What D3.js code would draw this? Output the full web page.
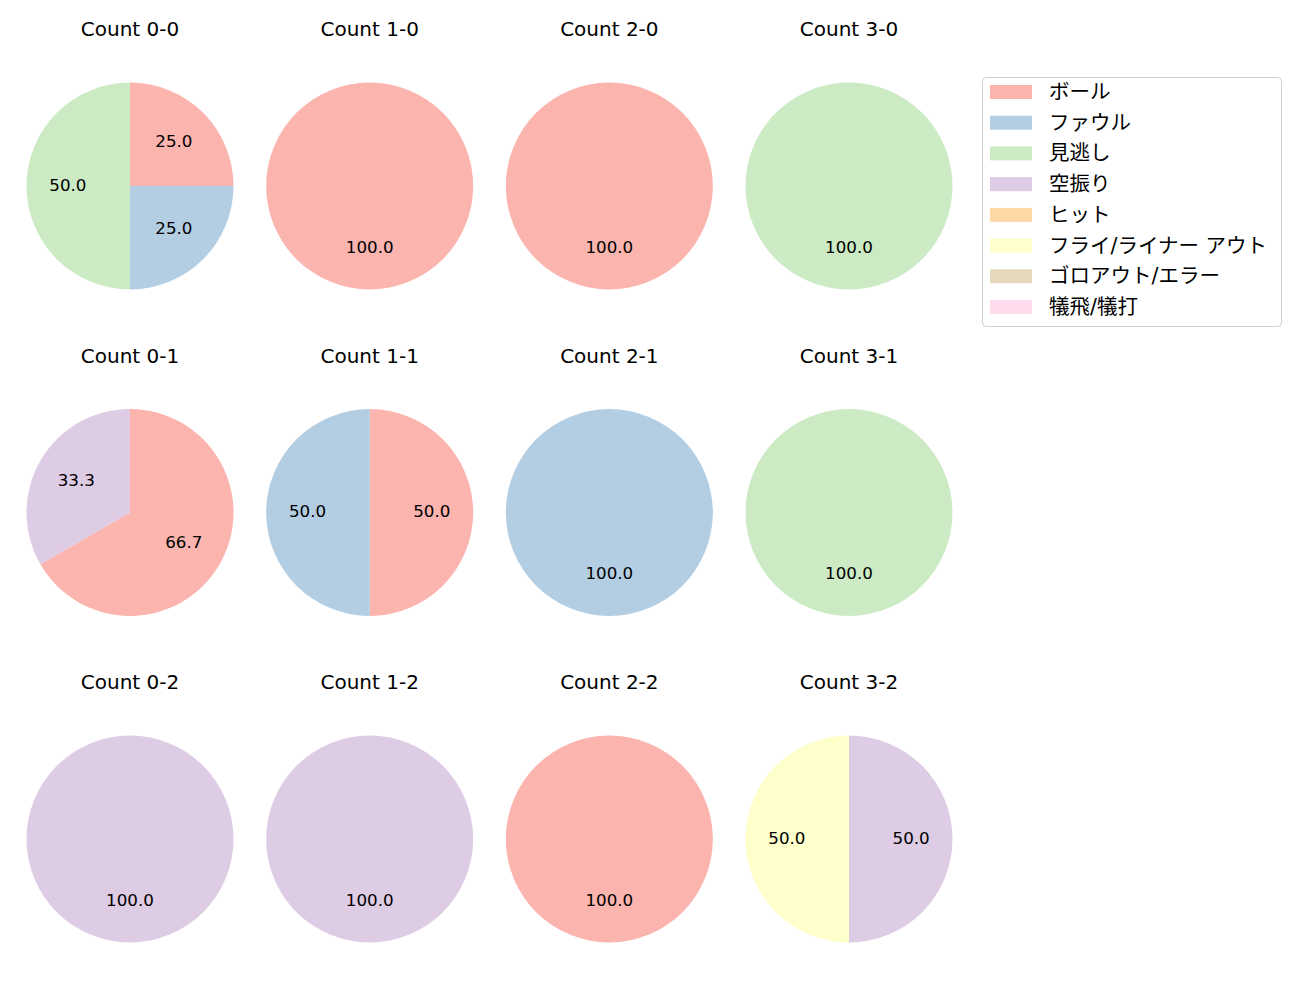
<!DOCTYPE html>
<html>
<head>
<meta charset="utf-8">
<script src="https://cdn.jsdelivr.net/npm/d3@7"></script>
<style>
  body { margin: 0; background: #fff; }
  text { font-family: "DejaVu Sans", "Noto Sans CJK JP", sans-serif; fill: #000; }
</style>
</head>
<body>
<div id="viz"></div>
<script>
const categories = ["ボール", "ファウル", "見逃し", "空振り", "ヒット", "フライ/ライナー アウト", "ゴロアウト/エラー", "犠飛/犠打"];
const colors = ["#fbb4ae", "#b3cde3", "#ccebc5", "#decbe4", "#fed9a6", "#ffffcc", "#e5d8bd", "#fddaec"];

const balls = [0, 1, 2, 3];
const strikes = [0, 1, 2];

// counts per pitch category for each ball-strike count
const counts = {
  "0-0": [1, 1, 2, 0, 0, 0, 0, 0],
  "1-0": [1, 0, 0, 0, 0, 0, 0, 0],
  "2-0": [1, 0, 0, 0, 0, 0, 0, 0],
  "3-0": [0, 0, 1, 0, 0, 0, 0, 0],
  "0-1": [2, 0, 0, 1, 0, 0, 0, 0],
  "1-1": [1, 1, 0, 0, 0, 0, 0, 0],
  "2-1": [0, 1, 0, 0, 0, 0, 0, 0],
  "3-1": [0, 0, 1, 0, 0, 0, 0, 0],
  "0-2": [0, 0, 0, 1, 0, 0, 0, 0],
  "1-2": [0, 0, 0, 1, 0, 0, 0, 0],
  "2-2": [1, 0, 0, 0, 0, 0, 0, 0],
  "3-2": [0, 0, 0, 1, 0, 1, 0, 0]
};

const width = 1300, height = 1000;
const radius = 103.5;

const x = d3.scalePoint().domain(balls).range([130, 849]);
const y = d3.scalePoint().domain(strikes).range([186, 839]);

const svg = d3.select("#viz")
  .append("svg")
  .attr("width", width)
  .attr("height", height);

const pie = d3.pie()
  .sort(null)
  .value(d => d.value)
  .startAngle(0)
  .endAngle(2 * Math.PI);

const arc = d3.arc().innerRadius(0).outerRadius(radius);
const labelArc = d3.arc().innerRadius(radius * 0.6).outerRadius(radius * 0.6);

strikes.forEach(s => {
  balls.forEach(b => {
    const key = `${b}-${s}`;
    const vals = counts[key];
    const total = d3.sum(vals);
    const data = vals.map((v, i) => ({ value: v, i: i })).filter(d => d.value > 0);

    const g = svg.append("g")
      .attr("transform", `translate(${x(b)},${y(s)})`);

    g.append("text")
      .attr("x", 0)
      .attr("y", -157)
      .attr("text-anchor", "middle")
      .attr("dominant-baseline", "central")
      .style("font-size", "20px")
      .text(`Count ${key}`);

    const arcs = pie(data);

    g.selectAll("path")
      .data(arcs)
      .join("path")
      .attr("d", arc)
      .attr("fill", d => colors[d.data.i]);

    g.selectAll(".lbl")
      .data(arcs)
      .join("text")
      .attr("class", "lbl")
      .attr("transform", d => {
        // a lone full slice has its label placed at the bottom, like matplotlib
        const c = (d.endAngle - d.startAngle >= 2 * Math.PI - 1e-6) ? [0, radius * 0.6] : labelArc.centroid(d);
        return `translate(${c[0]},${c[1] - 1.5})`;
      })
      .attr("text-anchor", "middle")
      .attr("dominant-baseline", "central")
      .style("font-size", "16.7px")
      .text(d => (d.data.value / total * 100).toFixed(1));
  });
});

// legend
const legend = svg.append("g").attr("transform", "translate(982,77)");
legend.append("rect")
  .attr("x", 0.5).attr("y", 0.5)
  .attr("width", 299).attr("height", 249)
  .attr("rx", 4)
  .attr("fill", "#fff")
  .attr("stroke", "#d0d0d0");

const rowY = d3.scalePoint().domain(d3.range(categories.length)).range([15, 230]);

const items = legend.selectAll(".item")
  .data(categories)
  .join("g")
  .attr("class", "item")
  .attr("transform", (d, i) => `translate(0,${rowY(i)})`);

items.append("rect")
  .attr("x", 8).attr("y", -7)
  .attr("width", 42).attr("height", 14)
  .attr("fill", (d, i) => colors[i]);

items.append("text")
  .attr("x", 67)
  .attr("y", 0)
  .attr("dominant-baseline", "central")
  .style("font-size", "20.5px")
  .text(d => d);
</script>
</body>
</html>
